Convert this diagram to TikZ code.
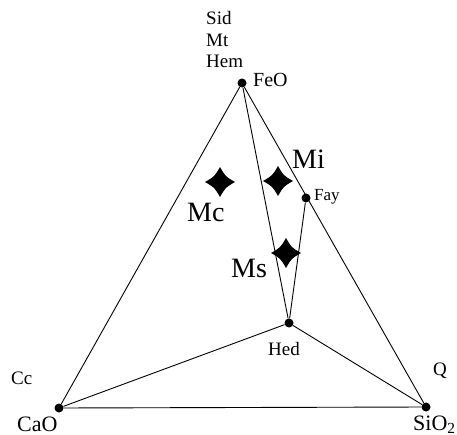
\documentclass[tikz,border=0pt]{standalone}
\usepackage{fontspec}
\setmainfont{Liberation Serif}
\tikzset{
  dot/.style={circle,fill=black,inner sep=0pt,minimum size=9pt},
  edge/.style={draw=black,line width=0.9pt},
  lab/.style={inner sep=0pt,anchor=base west,font=\fontsize{19}{21}\selectfont},
  biglab/.style={inner sep=0pt,anchor=base west,font=\fontsize{28}{31}\selectfont},
  star4/.pic={\fill[black] (15,0) .. controls (5.5,5.5) .. (0,15) .. controls (-5.5,5.5) .. (-15,0) .. controls (-5.5,-5.5) .. (0,-15) .. controls (5.5,-5.5) .. cycle;}
}
\begin{document}
\begin{tikzpicture}[x=1pt,y=-1pt]
\useasboundingbox (0,0) rectangle (457,435);
\node[dot] (FeO) at (242,83) {};
\node[dot] (CaO) at (59,408) {};
\node[dot] (SiO2) at (426,407) {};
\node[dot] (Hed) at (289,323) {};
\node[dot] (Fay) at (306,198) {};
\draw[edge] (FeO) -- (CaO);
\draw[edge] (FeO) -- (SiO2);
\draw[edge] (CaO) -- (SiO2);
\draw[edge] (CaO) -- (Hed);
\draw[edge] (Hed) -- (SiO2);
\draw[edge] (FeO) -- (Hed);
\draw[edge] (Hed) -- (Fay);
\pic at (220,182) {star4};
\pic at (278,181) {star4};
\pic at (286,253) {star4};
\node[lab] (tSid) at (206,25) {Sid};
\node[lab] (tMt) at (206,47) {Mt};
\node[lab] (tHem) at (206,68) {Hem};
\node[lab,font=\fontsize{20}{22}\selectfont] (tFeO) at (253,87) {FeO};
\node[lab,font=\fontsize{17}{19}\selectfont] (tFay) at (314,201) {Fay};
\node[lab] (tHed) at (268,355) {Hed};
\node[lab] (tCc) at (11,384) {Cc};
\node[lab] (tQ) at (433,375) {Q};
\node[lab,font=\fontsize{22}{24}\selectfont] (tCaO) at (17,431) {CaO};
\node[lab,font=\fontsize{22}{24}\selectfont] (tSiO2) at (413,430) {SiO\textsubscript{2}};
\node[biglab] (tMc) at (187,222) {Mc};
\node[biglab] (tMi) at (292,169) {Mi};
\node[biglab] (tMs) at (231,277) {Ms};
\end{tikzpicture}
\end{document}
